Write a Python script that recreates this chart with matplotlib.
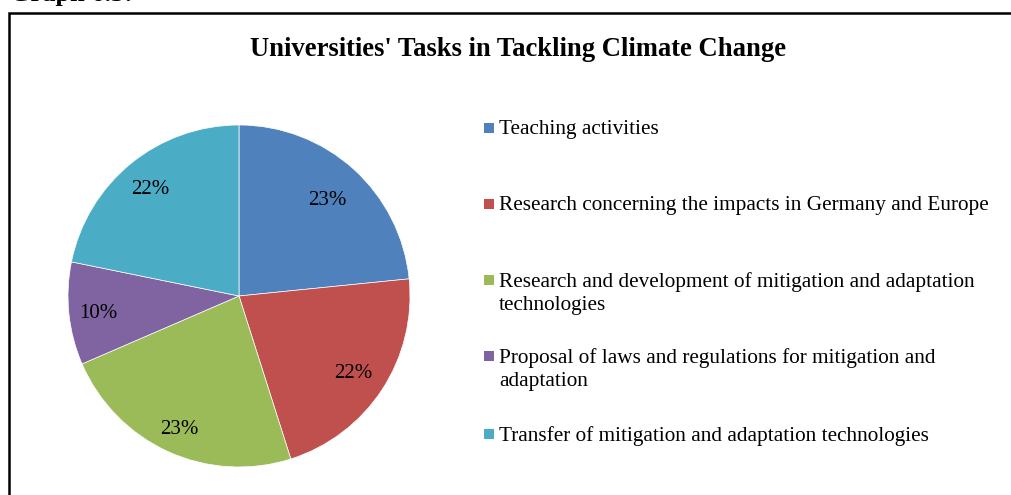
import numpy as np
import matplotlib.pyplot as plt
from matplotlib.patches import Rectangle

plt.rcParams['font.family'] = ['Liberation Serif', 'DejaVu Serif']

# shares of each task in percent
categories = [
    'Teaching activities',
    'Research concerning the impacts in Germany and Europe',
    'Research and development of mitigation and adaptation\ntechnologies',
    'Proposal of laws and regulations for mitigation and\nadaptation',
    'Transfer of mitigation and adaptation technologies',
]
shares = [23.4, 21.7, 23.4, 9.7, 21.8]
colors = ['#4f81bd', '#c0504d', '#9bbb59', '#8064a2', '#4bacc6']
# how far out each percentage label sits (fraction of radius)
label_dist = [0.77, 0.80, 0.84, 0.83, 0.82]

W, H = 1011, 495
fig = plt.figure(figsize=(W / 100, H / 100), dpi=100)

def fx(px):
    return px / W

def fy(py):
    return 1 - py / H

# outer frame, cut at right and bottom
fig.patches.append(Rectangle((fx(8.5), fy(600)), 1.2, (600 - 12.5) / H,
                             transform=fig.transFigure, fill=False,
                             edgecolor='black', linewidth=1.8))

# caption cut at the top of the page
fig.text(fx(10), fy(0.5), 'Graph 6.3:', fontsize=19, fontweight='bold',
         ha='left', va='baseline')

fig.text(fx(518), fy(50), "Universities' Tasks in Tackling Climate Change",
         fontsize=19.2, fontweight='bold', ha='center', va='center')

# pie: center (239, 296), radius 171 px
r = 171
ax = fig.add_axes([fx(239 - r), fy(296 + r), 2 * r / W, 2 * r / H])
wedges, texts, autotexts = ax.pie(
    shares, colors=colors, startangle=90, counterclock=False,
    autopct='%1.0f%%', radius=1,
    wedgeprops=dict(linewidth=0.5, edgecolor='white'),
    textprops=dict(fontsize=15, color='black'))
for w, t, d in zip(wedges, autotexts, label_dist):
    mid = np.deg2rad((w.theta1 + w.theta2) / 2)
    t.set_position((d * np.cos(mid), d * np.sin(mid) - 0.015))
ax.set_xlim(-1, 1)
ax.set_ylim(-1, 1)
ax.set_aspect('auto')
ax.axis('off')

# legend, drawn by hand to keep the uneven spacing
legend_y = [128, 204, 280, 356, 434]
for label, color, y in zip(categories, colors, legend_y):
    fig.patches.append(Rectangle((fx(484), fy(y + 5)), 10 / W, 10 / H,
                                 transform=fig.transFigure,
                                 facecolor=color, edgecolor='none'))
    fig.text(fx(499), fy(y - 8), label, fontsize=15.3, ha='left', va='top',
             linespacing=1.32)

fig.savefig('out.png', dpi=100)
